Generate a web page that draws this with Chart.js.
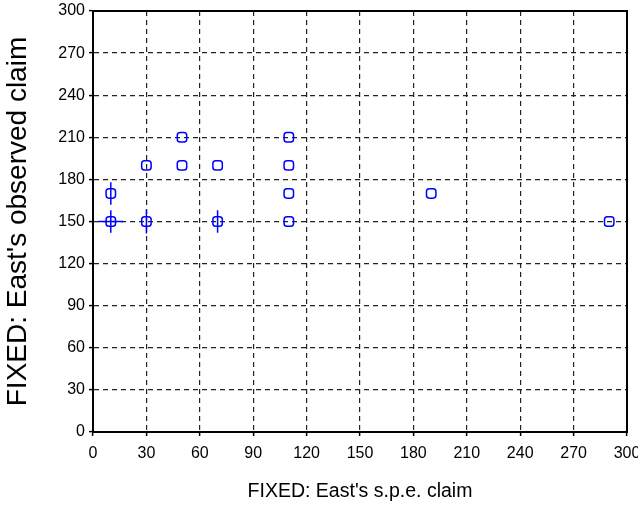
<!DOCTYPE html>
<html>
<head>
<meta charset="utf-8">
<script src="https://cdn.jsdelivr.net/npm/chart.js@4"></script>
<style>
  html, body { margin: 0; padding: 0; background: #fff; }
  #wrap { width: 638px; height: 530px; }
</style>
</head>
<body>
<div id="wrap"><canvas id="c" width="638" height="530"></canvas></div>
<script>
// Subgame-perfect claim vs. observed claim (FIXED treatment)
const speClaim      = [10, 10, 30, 30, 50, 50, 70, 70, 110, 110, 110, 110, 190, 290];
const observedClaim = [150, 170, 150, 190, 190, 210, 190, 150, 210, 190, 170, 150, 170, 150];
// Spread of repeated observations (0 = single observation)
const spreadX       = [7, 0, 0, 0, 0, 0, 0, 0, 0, 0, 0, 0, 0, 0];
const spreadY       = [8, 8, 8.5, 0, 0, 0, 0, 8, 0, 0, 0, 0, 0, 0];
const tickValues    = [0, 30, 60, 90, 120, 150, 180, 210, 240, 270, 300];

const BLUE = '#0000ff';
const FONT = '"Liberation Sans", Arial, sans-serif';

const points = speClaim.map((x, i) => ({ x: x, y: observedClaim[i] }));

// Error whiskers and the plot frame
const whiskers = {
  id: 'whiskers',
  afterDatasetsDraw(chart) {
    const { ctx, scales: { x, y } } = chart;
    ctx.save();
    ctx.strokeStyle = BLUE;
    ctx.lineWidth = 1.5;
    speClaim.forEach((xv, i) => {
      const yv = observedClaim[i];
      if (spreadY[i]) {
        const px = x.getPixelForValue(xv);
        ctx.beginPath();
        ctx.moveTo(px, y.getPixelForValue(yv - spreadY[i]));
        ctx.lineTo(px, y.getPixelForValue(yv + spreadY[i]));
        ctx.stroke();
      }
      if (spreadX[i]) {
        const py = y.getPixelForValue(yv);
        ctx.beginPath();
        ctx.moveTo(x.getPixelForValue(xv - spreadX[i]), py);
        ctx.lineTo(x.getPixelForValue(xv + spreadX[i]), py);
        ctx.stroke();
      }
    });
    ctx.restore();
  },
  afterDraw(chart) {
    const a = chart.chartArea, ctx = chart.ctx;
    ctx.save();
    ctx.strokeStyle = '#000';
    ctx.lineWidth = 2;
    ctx.setLineDash([]);
    ctx.strokeRect(a.left, a.top, a.right - a.left, a.bottom - a.top);
    ctx.restore();
  }
};

const gridOpts = {
  color: '#222',
  lineWidth: 1.2,
  tickColor: '#000',
  tickLength: 4,
  tickWidth: 1.5,
  tickBorderDash: [],
  drawTicks: true
};

const borderOpts = { display: true, color: '#000', width: 2, dash: [5, 4] };

new Chart(document.getElementById('c'), {
  type: 'scatter',
  data: {
    datasets: [{
      data: points,
      pointStyle: 'rectRounded',
      pointRadius: 5.5,
      pointHoverRadius: 5.5,
      borderColor: BLUE,
      backgroundColor: 'rgba(0,0,0,0)',
      borderWidth: 1.5
    }]
  },
  options: {
    responsive: false,
    animation: false,
    events: [],
    layout: { padding: { top: 11, right: 11, left: 0, bottom: 0 } },
    plugins: { legend: { display: false }, tooltip: { enabled: false } },
    scales: {
      x: {
        type: 'linear', min: 0, max: 300,
        afterBuildTicks: s => { s.ticks = tickValues.map(v => ({ value: v })); },
        afterFit: s => { s.height = 98; s.paddingLeft = 0; s.paddingRight = 0; },
        border: borderOpts,
        grid: gridOpts,
        ticks: { color: '#000', font: { family: FONT, size: 16 }, padding: 8, maxRotation: 0, autoSkip: false },
        title: { display: true, text: "FIXED: East's s.p.e. claim", color: '#000',
                 font: { family: FONT, size: 19.5 }, padding: { top: 0, bottom: 27 } }
      },
      y: {
        type: 'linear', min: 0, max: 300,
        afterBuildTicks: s => { s.ticks = tickValues.map(v => ({ value: v })); },
        afterFit: s => { s.width = 93; s.paddingTop = 0; s.paddingBottom = 0; },
        border: borderOpts,
        grid: gridOpts,
        ticks: { color: '#000', font: { family: FONT, size: 16 }, padding: 4, autoSkip: false },
        title: { display: true, text: "FIXED: East's observed claim", color: '#000',
                 font: { family: FONT, size: 28 }, padding: { top: 1, bottom: 0 } }
      }
    }
  },
  plugins: [whiskers]
});
</script>
</body>
</html>
